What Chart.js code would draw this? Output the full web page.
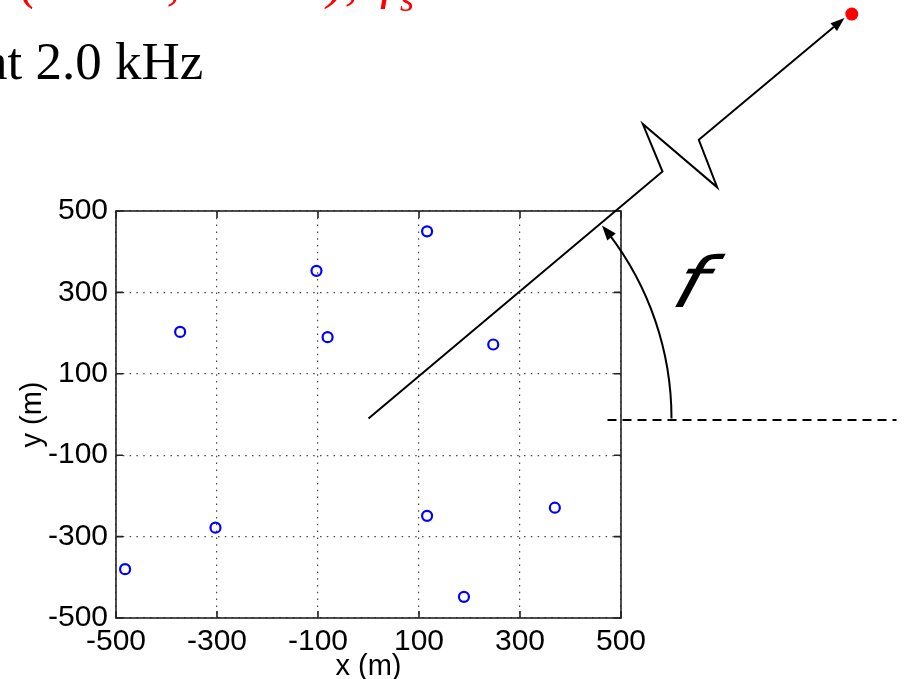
<!DOCTYPE html>
<html>
<head>
<meta charset="utf-8">
<script src="https://cdn.jsdelivr.net/npm/chart.js@4.4.1/dist/chart.umd.min.js"></script>
<style>
  html, body { margin: 0; padding: 0; background: #ffffff; }
  #c { display: block; }
</style>
</head>
<body>
<canvas id="c" width="905" height="679"></canvas>
<script>
// ---- data ----
const sensorX = [-373, -103, -81, 116, 247, -482, -303, 116, 369, 189];
const sensorY = [203, 353, 190, 450, 172, -380, -278, -249, -229, -448];
const tickValues = [-500, -300, -100, 100, 300, 500];
const xTitle = 'x (m)';
const yTitle = 'y (m)';
const headingText = 'at 2.0 kHz';
const sourceOrigin = { x: 0, y: -10 };   // start of the bearing line (data units)

const AXIS_FONT = { family: '"Liberation Sans", Arial, Helvetica, sans-serif', size: 30 };

// ---- decoration plugin: frame, inner ticks, bearing diagram, texts ----
const decor = {
  id: 'decor',
  beforeDraw(chart) {
    const ctx = chart.ctx;
    ctx.save();
    ctx.fillStyle = '#ffffff';
    ctx.fillRect(0, 0, chart.width, chart.height);
    ctx.restore();
  },
  afterDraw(chart) {
    const ctx = chart.ctx;
    const a = chart.chartArea;
    const xs = chart.scales.x, ys = chart.scales.y;
    ctx.save();
    // frame
    ctx.strokeStyle = '#222222';
    ctx.lineWidth = 1.6;
    ctx.setLineDash([]);
    ctx.strokeRect(a.left, a.top, a.right - a.left, a.bottom - a.top);
    // inward tick marks on all four sides
    const tl = 7;
    ctx.beginPath();
    tickValues.forEach(v => {
      const px = xs.getPixelForValue(v);
      ctx.moveTo(px, a.bottom); ctx.lineTo(px, a.bottom - tl);
      ctx.moveTo(px, a.top); ctx.lineTo(px, a.top + tl);
      const py = ys.getPixelForValue(v);
      ctx.moveTo(a.left, py); ctx.lineTo(a.left + tl, py);
      ctx.moveTo(a.right, py); ctx.lineTo(a.right - tl, py);
    });
    ctx.stroke();

    // bearing diagram, anchored at the source origin on the scales
    const ox = xs.getPixelForValue(sourceOrigin.x);
    const oy = ys.getPixelForValue(sourceOrigin.y);
    const P = (dx, dy) => [ox + dx, oy + dy];
    ctx.strokeStyle = '#000000';
    ctx.fillStyle = '#000000';
    ctx.lineJoin = 'miter';
    ctx.lineCap = 'butt';

    // straight bearing line to the break
    ctx.lineWidth = 2;
    const b1 = P(294, -247);
    ctx.beginPath();
    ctx.moveTo(ox, oy); ctx.lineTo(b1[0], b1[1]);
    // zig-zag break
    const z1 = P(274.3, -294.5), z2 = P(348.7, -231.2), z3 = P(330.3, -278.8);
    ctx.lineTo(z1[0], z1[1]);
    ctx.lineTo(z2[0], z2[1]);
    ctx.lineTo(z3[0], z3[1]);
    const tip = P(476, -400.5);
    const ang = Math.atan2(tip[1] - z3[1], tip[0] - z3[0]);
    const ah = 14, aw = 5;
    ctx.lineTo(tip[0] - ah * Math.cos(ang), tip[1] - ah * Math.sin(ang));
    ctx.stroke();
    ctx.beginPath();
    ctx.moveTo(tip[0], tip[1]);
    ctx.lineTo(tip[0] - ah * Math.cos(ang) + aw * Math.sin(ang), tip[1] - ah * Math.sin(ang) - aw * Math.cos(ang));
    ctx.lineTo(tip[0] - ah * Math.cos(ang) - aw * Math.sin(ang), tip[1] - ah * Math.sin(ang) + aw * Math.cos(ang));
    ctx.closePath();
    ctx.fill();

    // red source dot
    const dot = P(483.3, -404.5);
    ctx.fillStyle = '#ff0000';
    ctx.beginPath();
    ctx.arc(dot[0], dot[1], 6.5, 0, Math.PI * 2);
    ctx.fill();

    // dashed reference line
    ctx.strokeStyle = '#000000';
    ctx.fillStyle = '#000000';
    ctx.lineWidth = 2;
    ctx.setLineDash([9, 6]);
    ctx.beginPath();
    ctx.moveTo(ox + 239, oy + 1.5);
    ctx.lineTo(ox + 528, oy + 1.5);
    ctx.stroke();
    ctx.setLineDash([]);

    // angle arc with arrow
    const R = 303;
    const th = 39.6 * Math.PI / 180;
    ctx.lineWidth = 2;
    ctx.beginPath();
    ctx.arc(ox, oy, R, 0, -(th - 0.035), true);
    ctx.stroke();
    const at = [ox + R * Math.cos(th), oy - R * Math.sin(th)];
    const dirx = -Math.sin(th), diry = -Math.cos(th);
    const al = 15, aw2 = 5.5;
    ctx.beginPath();
    ctx.moveTo(at[0], at[1]);
    ctx.lineTo(at[0] - al * dirx - aw2 * diry, at[1] - al * diry + aw2 * dirx);
    ctx.lineTo(at[0] - al * dirx + aw2 * diry, at[1] - al * diry - aw2 * dirx);
    ctx.closePath();
    ctx.fill();

    // angle symbol (thin, strongly slanted sans italic)
    ctx.save();
    ctx.translate(ox + 301, oy - 112);
    ctx.transform(1.2, 0, -0.3, 1, 0, 0);
    ctx.font = 'italic 200 70px "DejaVu Sans", "Liberation Sans", sans-serif';
    ctx.textAlign = 'left';
    ctx.textBaseline = 'alphabetic';
    ctx.fillText('f', 0, 0);
    ctx.restore();

    // heading text (serif)
    ctx.fillStyle = '#000000';
    ctx.font = '53px "Liberation Serif", "Times New Roman", serif';
    ctx.textAlign = 'left';
    ctx.textBaseline = 'alphabetic';
    ctx.fillText(headingText, -16, 79);

    // red line above (mostly cut off at the top edge)
    ctx.fillStyle = '#ff0000';
    ctx.font = 'italic 53px "Liberation Serif", "Times New Roman", serif';
    ctx.textAlign = 'left';
    ctx.fillText('(', 20, -2);
    ctx.textAlign = 'right';
    ctx.fillText('6.0 km,', 180, -2);
    ctx.fillText('39.6°),', 358, -2);
    ctx.textAlign = 'left';
    ctx.fillText('f', 380, -2);
    ctx.font = 'italic 36px "Liberation Serif", "Times New Roman", serif';
    ctx.fillText('s', 400, 11);
    ctx.font = 'italic 53px "Liberation Serif", "Times New Roman", serif';
    ctx.fillText('= 8 kHz', 430, -2);
    ctx.restore();
  }
};

const points = sensorX.map((x, i) => ({ x: x, y: sensorY[i] }));

new Chart(document.getElementById('c'), {
  type: 'scatter',
  data: {
    datasets: [{
      data: points,
      pointStyle: 'circle',
      pointRadius: 5,
      pointHoverRadius: 5,
      borderWidth: 2.2,
      borderColor: '#0000ff',
      backgroundColor: 'rgba(255,255,255,0)'
    }]
  },
  options: {
    responsive: false,
    animation: false,
    devicePixelRatio: 1,
    layout: { padding: { left: 0, top: 211, right: 284, bottom: 0 } },
    plugins: { legend: { display: false }, tooltip: { enabled: false } },
    scales: {
      x: {
        type: 'linear', min: -500, max: 500,
        afterBuildTicks(s) { s.ticks = tickValues.map(v => ({ value: v })); },
        afterFit(s) { s.height = 61; },
        ticks: { font: AXIS_FONT, color: '#000000', padding: 6, maxRotation: 0, autoSkip: false },
        grid: { color: 'rgba(40,40,40,0.85)', lineWidth: 1.2, drawTicks: false },
        border: { display: false, dash: [1.5, 5.3] },
        title: { display: true, text: xTitle, color: '#000000', font: { family: AXIS_FONT.family, size: 29, lineHeight: 0.82 }, padding: { top: 0, bottom: 0 } }
      },
      y: {
        type: 'linear', min: -500, max: 500,
        afterBuildTicks(s) { s.ticks = tickValues.map(v => ({ value: v })); },
        afterFit(s) { s.width = 116; },
        ticks: { font: AXIS_FONT, color: '#000000', padding: 8, autoSkip: false },
        grid: { color: 'rgba(40,40,40,0.85)', lineWidth: 1.2, drawTicks: false },
        border: { display: false, dash: [1.5, 5.3] },
        title: { display: true, text: yTitle, color: '#000000', font: { family: AXIS_FONT.family, size: 29, lineHeight: 1 }, padding: { top: 18.5, bottom: 0 } }
      }
    }
  },
  plugins: [decor]
});
</script>
</body>
</html>
